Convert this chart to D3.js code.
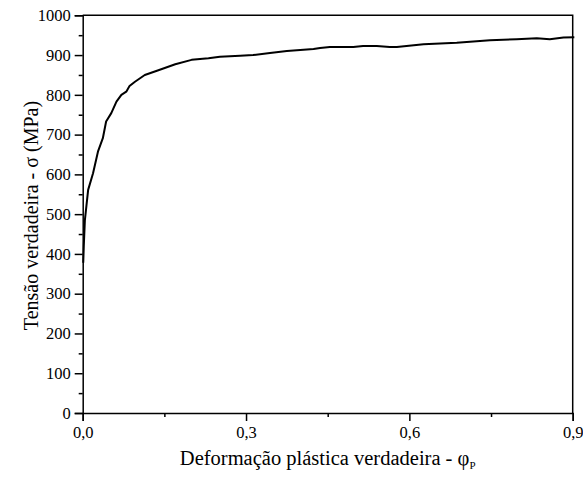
<!DOCTYPE html>
<html>
<head>
<meta charset="utf-8">
<script src="https://cdn.jsdelivr.net/npm/d3@7"></script>
<style>
    body { margin: 0; background: #fff; }
</style>
</head>
<body>
<svg id="chart" width="583" height="479"></svg>
<script>
// strain (true plastic strain) and stress (MPa)
const strain = [0.001, 0.002, 0.004, 0.010, 0.019, 0.028, 0.037, 0.043, 0.0525, 0.062, 0.071,
    0.080, 0.086, 0.096, 0.114, 0.139, 0.170, 0.200, 0.231, 0.252, 0.289, 0.313, 0.344,
    0.375, 0.424, 0.436, 0.454, 0.497, 0.515, 0.540, 0.564, 0.577, 0.626, 0.687, 0.748,
    0.797, 0.834, 0.858, 0.883, 0.903];
const stress = [378, 420, 485, 561, 603, 657, 691, 733, 754, 783, 800,
    808, 822, 833, 850, 862, 877, 888, 892, 896, 898, 900, 905,
    910, 915, 918, 920, 920, 923, 923, 920, 920, 927, 931, 937,
    940, 942, 940, 944, 945];

const xMajor = [0, 0.3, 0.6, 0.9];
const xMinor = [0.15, 0.45, 0.75];
const yMajor = [0, 100, 200, 300, 400, 500, 600, 700, 800, 900, 1000];
const yMinor = [50, 150, 250, 350, 450, 550, 650, 750, 850, 950];

const xTitle = "Deformação plástica verdadeira - φ";
const yTitle = "Tensão verdadeira - σ (MPa)";

const FONT = "Liberation Serif";
const margin = {left: 82.7, right: 10.3, top: 15.3, bottom: 66};
const width = 583, height = 479;

const svg = d3.select("#chart")
    .attr("font-family", FONT);

const x = d3.scaleLinear().domain([0, 0.9]).range([margin.left, width - margin.right]);
const y = d3.scaleLinear().domain([0, 1000]).range([height - margin.bottom, margin.top]);

// x axis
svg.append("g")
    .attr("transform", "translate(0," + y(0) + ")")
    .call(d3.axisBottom(x).tickValues(xMajor).tickSize(8).tickPadding(5)
        .tickFormat(d => d3.format(".1f")(d).replace(".", ",")));
svg.append("g")
    .attr("transform", "translate(0," + y(0) + ")")
    .call(d3.axisBottom(x).tickValues(xMinor).tickSize(4).tickFormat(""))
    .select(".domain").remove();

// y axis
svg.append("g")
    .attr("transform", "translate(" + x(0) + ",0)")
    .call(d3.axisLeft(y).tickValues(yMajor).tickSize(8).tickPadding(4).tickFormat(d3.format("d")));
svg.append("g")
    .attr("transform", "translate(" + x(0) + ",0)")
    .call(d3.axisLeft(y).tickValues(yMinor).tickSize(4).tickFormat(""))
    .select(".domain").remove();

svg.selectAll("g").attr("font-family", FONT);
svg.selectAll(".tick line").attr("stroke-width", 1.5);
svg.selectAll(".domain").attr("stroke-width", 1.5);
svg.selectAll(".tick text")
    .attr("font-family", FONT)
    .attr("font-size", 16.5)
    .attr("fill", "#000");

// frame top & right
svg.append("path")
    .attr("d", "M" + x(0) + "," + y(1000) + "H" + x(0.9) + "V" + y(0))
    .attr("fill", "none")
    .attr("stroke", "#000")
    .attr("stroke-width", 1.5);

// curve
const line = d3.line()
    .x((d, i) => x(strain[i]))
    .y(d => y(d));

svg.append("path")
    .datum(stress)
    .attr("d", line)
    .attr("fill", "none")
    .attr("stroke", "#000")
    .attr("stroke-width", 2)
    .attr("stroke-linejoin", "round");

// axis titles
const xt = svg.append("text")
    .attr("x", (x(0) + x(0.9)) / 2)
    .attr("y", 465)
    .attr("text-anchor", "middle")
    .attr("font-family", FONT)
    .attr("font-size", 20.5);
xt.append("tspan").text(xTitle);
xt.append("tspan").attr("dy", 4).attr("font-size", 11).text("P");

svg.append("text")
    .attr("transform", "translate(38,215.5) rotate(-90)")
    .attr("text-anchor", "middle")
    .attr("font-family", FONT)
    .attr("font-size", 20)
    .text(yTitle);
</script>
</body>
</html>
